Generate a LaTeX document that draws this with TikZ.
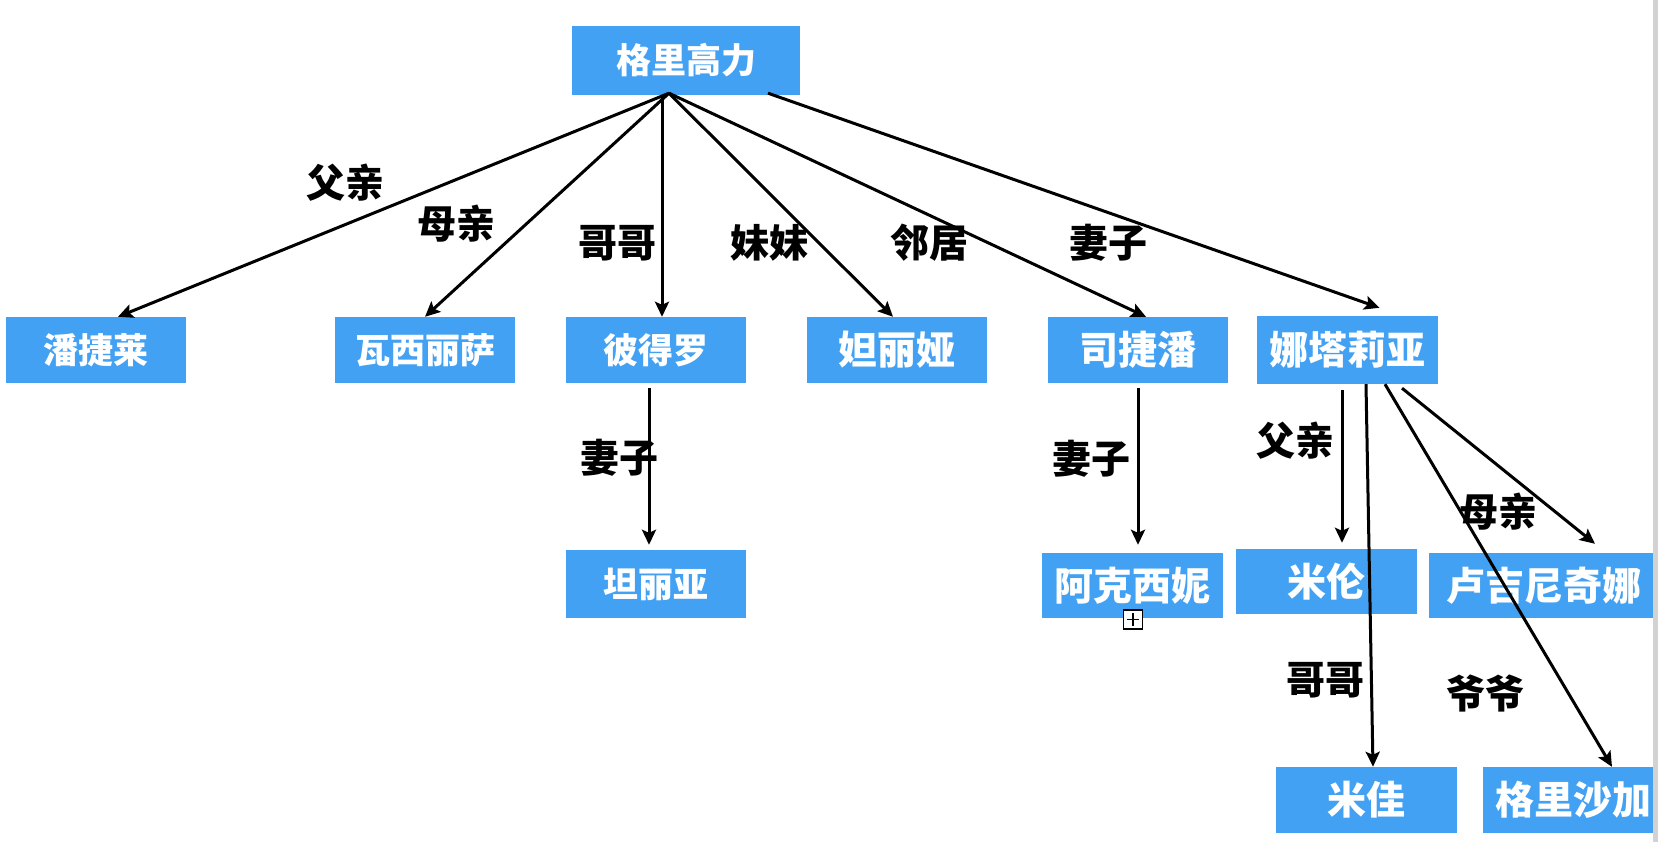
\documentclass[tikz,border=0pt]{standalone}
\usepackage{fontspec}
\setmainfont{Noto Sans CJK SC}
\usepackage{tikz}
\usetikzlibrary{positioning,arrows.meta}

\definecolor{boxblue}{RGB}{66,161,243}

\begin{document}
\begin{tikzpicture}[x=1pt, y=-1pt,
        person/.style={fill=boxblue, text=white, inner sep=0pt, minimum width=180pt, minimum height=66pt,
                       font=\fontsize{35}{40}\selectfont\bfseries},
        bigname/.style={font=\fontsize{39}{44}\selectfont\bfseries},
        rel/.style={text=black, inner sep=0pt, font=\fontsize{39}{44}\selectfont\bfseries},
        link/.style={-{Stealth[length=15pt,width=14pt,inset=3pt]}, line width=3pt}]
                \useasboundingbox (0,0) rectangle (1658,842);

                \node[person, minimum width=228pt, minimum height=69pt] (gao) at (686,60.5) {格里高力};
                \node[person] (pan) at (96,350) {潘捷莱};
                \node[person] (wa) at (425,350) {瓦西丽萨};
                \node[person] (bi) at (655.5,350) {彼得罗};
                \node[person, bigname] (da) at (897,350) {妲丽娅};
                \node[person, bigname] (si) at (1138,350) {司捷潘};
                \node[person, bigname, minimum width=181pt, minimum height=68pt] (na) at (1347.5,350) {娜塔莉亚};
                \node[person, minimum height=68pt] (tan) at (655.5,584) {坦丽亚};
                \node[person, bigname, minimum width=181pt, minimum height=65pt] (ak) at (1132.5,585.5) {阿克西妮};
                \node[person, bigname, minimum width=181pt, minimum height=65pt] (mi) at (1326.5,581.5) {米伦};
                \node[person, bigname, minimum width=230pt, minimum height=65pt] (lu) at (1544,585.5) {卢吉尼奇娜};
                \node[person, bigname, minimum width=181pt] (jia) at (1366.5,800) {米佳};
                \node[person, bigname] (gsj) at (1573,800) {格里沙加};

                % fold marker
                \node[draw, line width=1.5pt, fill=white, minimum size=19pt, inner sep=0pt] (fold) at (1133,619.5) {};
                \draw[line width=1.2pt] ([yshift=-4pt]fold.north) -- ([yshift=4pt]fold.south);
                \draw[line width=1.2pt] ([xshift=4pt]fold.west) -- ([xshift=-4pt]fold.east);

                \coordinate (hub) at ([xshift=-17pt,yshift=2pt]gao.south);

                \path[link]
                    (hub) edge ([xshift=22pt]pan.north)
                    (hub) edge (wa.north)
                    ([xshift=-24pt,yshift=-2pt]gao.south) edge ([xshift=6.5pt]bi.north)
                    (hub) edge ([xshift=-4pt]da.north)
                    (hub) edge ([xshift=8pt]si.north)
                    ([xshift=82pt,yshift=2pt]gao.south) edge ([xshift=32pt,yshift=8pt]na.north)
                    ([xshift=-6.5pt,yshift=-5pt]bi.south) edge ([xshift=-6.5pt,yshift=5pt]tan.north)
                    ([yshift=-5pt]si.south) edge ([xshift=5.5pt,yshift=8pt]ak.north)
                    ([xshift=-5.5pt,yshift=-6pt]na.south) edge ([xshift=15.5pt,yshift=6pt]mi.north)
                    ([xshift=18.5pt]na.south) edge ([xshift=6.5pt]jia.north)
                    ([xshift=37.5pt]na.south) edge ([xshift=39pt]gsj.north)
                    ([xshift=54.5pt,yshift=-4pt]na.south) edge ([xshift=51pt,yshift=9pt]lu.north)
                    ;

                \node[rel] (r1) at (345,183) {父亲};
                \node[rel] (r2) at (456,224) {母亲};
                \node[rel] (r3) at (617,243) {哥哥};
                \node[rel] (r4) at (769,243) {妹妹};
                \node[rel] (r5) at (929,243) {邻居};
                \node[rel] (r6) at (1108,243) {妻子};
                \node[rel] (r7) at (619,458) {妻子};
                \node[rel] (r8) at (1091,459) {妻子};
                \node[rel] (r9) at (1295,441) {父亲};
                \node[rel] (r10) at (1498,512) {母亲};
                \node[rel] (r11) at (1325,680) {哥哥};
                \node[rel] (r12) at (1485,693) {爷爷};

                % window edge
                \fill[gray!35] (1652.5,0) rectangle (1658,842);
            \end{tikzpicture}
\end{document}
